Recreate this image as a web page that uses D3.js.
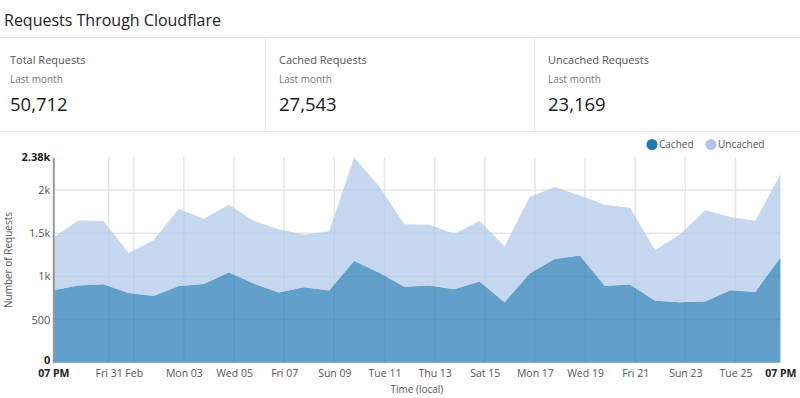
<!DOCTYPE html>
<html>
<head>
<meta charset="utf-8">
<script src="https://cdn.jsdelivr.net/npm/d3@7"></script>
<style>
  body { margin: 0; background: #fff; }
  svg text { font-family: "Open Sans", "Noto Sans", sans-serif; }
</style>
</head>
<body>
<svg id="chart" width="800" height="398"></svg>
<script>
// one point per day, 7 PM local
const days = ["2020-01-28", "2020-01-29", "2020-01-30", "2020-01-31", "2020-02-01", "2020-02-02",
  "2020-02-03", "2020-02-04", "2020-02-05", "2020-02-06", "2020-02-07", "2020-02-08",
  "2020-02-09", "2020-02-10", "2020-02-11", "2020-02-12", "2020-02-13", "2020-02-14",
  "2020-02-15", "2020-02-16", "2020-02-17", "2020-02-18", "2020-02-19", "2020-02-20",
  "2020-02-21", "2020-02-22", "2020-02-23", "2020-02-24", "2020-02-25", "2020-02-26"]
const cached = [840, 894, 909, 809, 774, 890, 913, 1044, 917, 813, 875, 836, 1179, 1041, 879,
  895, 852, 940, 701, 1033, 1202, 1241, 890, 905, 717, 701, 709, 840, 821, 1218]
const uncached = [609, 755, 732, 466, 644, 894, 755, 786, 724, 732, 608, 686, 1201, 1001, 724,
  704, 643, 701, 649, 886, 832, 697, 940, 891, 585, 786, 1056, 848, 824, 963]
const seriesNames = ["Cached", "Uncached"]
const xTickDays = ["2020-01-31", "2020-02-01", "2020-02-03", "2020-02-05", "2020-02-07", "2020-02-09",
  "2020-02-11", "2020-02-13", "2020-02-15", "2020-02-17", "2020-02-19", "2020-02-21",
  "2020-02-23", "2020-02-25"]
const yTicks = [0, 500, 1000, 1500, 2000]

const statTitles = ["Total Requests", "Cached Requests", "Uncached Requests"]
const statValues = [50712, 27543, 23169]

const parseHour = d3.timeParse("%Y-%m-%d %H")
const parseDay = d3.timeParse("%Y-%m-%d")

const data = days.map((d, i) => ({ date: parseHour(d + " 19"), Cached: cached[i], Uncached: uncached[i] }))

const svg = d3.select('#chart')
const colors = d3.scaleOrdinal().domain(seriesNames).range(['#1f77b4', '#aec7e8'])

// ---- header ----
svg.append('text')
  .attr('x', 4).attr('y', 26)
  .attr('font-size', 16).attr('fill', '#222')
  .text('Requests Through Cloudflare')

svg.append('line').attr('x1', 0).attr('x2', 800).attr('y1', 37.5).attr('y2', 37.5)
  .attr('stroke', '#e6e6e6')
svg.append('line').attr('x1', 0).attr('x2', 800).attr('y1', 131.5).attr('y2', 131.5)
  .attr('stroke', '#e6e6e6')

const colX = [10, 279, 548]
statTitles.forEach((t, i) => {
  if (i > 0) {
    svg.append('line').attr('x1', colX[i] - 13.5).attr('x2', colX[i] - 13.5)
      .attr('y1', 37).attr('y2', 131).attr('stroke', '#e6e6e6')
  }
  svg.append('text').attr('x', colX[i]).attr('y', 64)
    .attr('font-size', 11).attr('fill', '#555').text(t)
  svg.append('text').attr('x', colX[i]).attr('y', 83)
    .attr('font-size', 10).attr('fill', '#777').text('Last month')
  svg.append('text').attr('x', colX[i]).attr('y', 111)
    .attr('font-size', 18.5).attr('fill', '#1a1a1a').text(d3.format(',')(statValues[i]))
})

// ---- legend ----
const legendX = [652, 711]
seriesNames.forEach((s, i) => {
  svg.append('circle').attr('cx', legendX[i]).attr('cy', 144.5).attr('r', 5.5).attr('fill', colors(s))
  svg.append('text').attr('x', legendX[i] + 7).attr('y', 148)
    .attr('font-size', 10).attr('fill', '#555').text(s)
})

// ---- chart ----
const plotLeft = 53.3, plotRight = 780.4, plotTop = 157.2, plotBottom = 362.8

const stack = d3.stack().keys(seriesNames)
const layers = stack(data)
const maxTotal = d3.max(layers[1], d => d[1])

const x = d3.scaleTime().domain(d3.extent(data, d => d.date)).range([plotLeft, plotRight])
const y = d3.scaleLinear().domain([0, maxTotal]).range([plotBottom, plotTop])

const xTickValues = [data[0].date].concat(xTickDays.map(parseDay), [data[data.length - 1].date])

// gridlines
svg.append('g').selectAll('line')
  .data(yTicks.slice(1))
  .enter().append('line')
  .attr('x1', plotLeft).attr('x2', plotRight)
  .attr('y1', d => y(d)).attr('y2', d => y(d))
  .attr('stroke', '#e6e6e6').attr('stroke-width', 1.5)

svg.append('g').selectAll('line')
  .data(xTickDays.map(parseDay))
  .enter().append('line')
  .attr('x1', d => x(d)).attr('x2', d => x(d))
  .attr('y1', plotTop).attr('y2', plotBottom)
  .attr('stroke', '#e6e6e6').attr('stroke-width', 1.5)

const area = d3.area()
  .x(d => x(d.data.date))
  .y0(d => y(d[0]))
  .y1(d => y(d[1]))

svg.append('g').selectAll('path')
  .data(layers)
  .enter().append('path')
  .attr('d', area)
  .attr('fill', d => colors(d.key))
  .attr('opacity', 0.7)

// x axis
const multiFormat = d => {
  if (d.getHours() !== 0) return d3.timeFormat('%I %p')(d)
  if (d.getDate() === 1) return d3.timeFormat('%b')(d)
  return d3.timeFormat('%a %d')(d)
}

const xAxis = svg.append('g')
  .attr('transform', `translate(0, ${plotBottom})`)
  .call(d3.axisBottom(x).tickValues(xTickValues).tickFormat(multiFormat).tickSize(0).tickPadding(7))
xAxis.select('.domain').remove()
xAxis.selectAll('text')
  .attr('font-size', 10.5)
  .attr('fill', d => d.getHours() !== 0 ? '#222' : '#555')
  .attr('font-weight', d => d.getHours() !== 0 ? 'bold' : 'normal')
  .style('font-family', '"Open Sans", sans-serif')

// y axis
const yAxis = svg.append('g')
  .attr('transform', `translate(${plotLeft}, 0)`)
  .call(d3.axisLeft(y).tickValues(yTicks.concat([maxTotal])).tickFormat(d3.format('~s')).tickSize(0).tickPadding(3))
yAxis.select('.domain').attr('stroke', '#999').attr('stroke-width', 2)
yAxis.selectAll('text')
  .attr('font-size', 11)
  .attr('dy', d => d === 0 ? '0.1em' : '0.32em')
  .attr('fill', d => (d === 0 || d === maxTotal) ? '#222' : '#555')
  .attr('font-weight', d => (d === 0 || d === maxTotal) ? 'bold' : 'normal')
  .style('font-family', '"Open Sans", sans-serif')

// axis titles
svg.append('text')
  .attr('transform', 'translate(12, 260) rotate(-90)')
  .attr('text-anchor', 'middle')
  .attr('font-size', 10).attr('fill', '#555')
  .text('Number of Requests')

svg.append('text')
  .attr('x', (plotLeft + plotRight) / 2).attr('y', 393)
  .attr('text-anchor', 'middle')
  .attr('font-size', 10).attr('fill', '#555')
  .text('Time (local)')
</script>
</body>
</html>
